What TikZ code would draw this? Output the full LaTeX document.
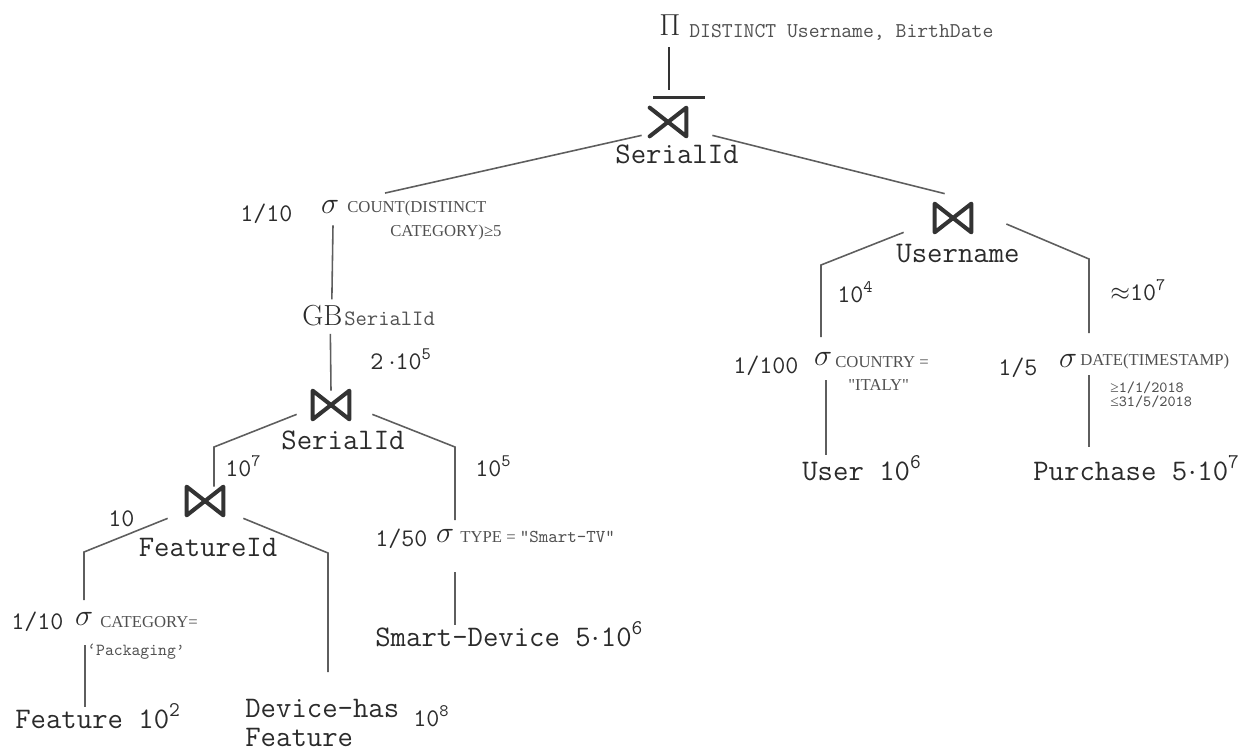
\documentclass[tikz,border=0pt]{standalone}
\usepackage{fontspec}
\newfontfamily\condfont{Liberation Serif}
\definecolor{txt}{HTML}{2B2B2B}
\definecolor{subtxt}{HTML}{505050}
\definecolor{edgec}{HTML}{5E5E5E}
\definecolor{opc}{HTML}{333333}
\newcommand{\tdot}{\kern0.5pt$\cdot$\kern0.5pt}

\begin{document}
\begin{tikzpicture}[x=0.02cm, y=-0.02cm,
    lbl/.style={font=\ttfamily\fontsize{17}{20}\selectfont, text=txt, inner sep=0pt},
    num/.style={font=\ttfamily\fontsize{14.4}{17}\selectfont, text=txt, inner sep=0pt},
    cond/.style={font=\condfont\fontsize{9.5}{11}\selectfont, text=subtxt, inner sep=0pt},
    attr/.style={font=\ttfamily\fontsize{9.6}{11}\selectfont, text=subtxt, inner sep=0pt},
    sel/.style={font=\fontsize{17}{17}\selectfont, text=txt, inner sep=0pt},
    op/.style={minimum width=0.72cm, minimum height=0.56cm, inner sep=0pt},
    opline/.style={draw=opc, line width=2.3pt, line join=round, line cap=round},
    edge/.style={draw=edgec, line width=0.9pt}]
    \useasboundingbox (0,0) rectangle (1251,751);

    % Projection
    \node[font=\fontsize{16}{16}\selectfont, text=txt, inner sep=0pt, anchor=base] (pi) at (670,35) {$\Pi$};
    \node[font=\ttfamily\fontsize{12}{14}\selectfont, text=subtxt, inner sep=0pt, anchor=base west] (piattr) at (689,37) {DISTINCT Username, BirthDate};

    % Draw operators
    \node[op] (sj) at (668,122) {};
    \node[op] (jU) at (953,218) {};
    \node[op] (jS) at (331,405) {};
    \node[op] (jF) at (205,501) {};
    \draw[opline] (sj.north west) -- (sj.south east) -- (sj.north east) -- (sj.south west);
    \draw[draw=opc, line width=1.6pt] ([shift={(-15,-10)}]sj.north) -- ([shift={(37,-10)}]sj.north);
    \foreach \j in {jU,jS,jF}
        \draw[opline] (\j.north west) -- (\j.south east) -- (\j.north east) -- (\j.south west) -- cycle;

    % Join attributes
    \node[lbl, anchor=base] (lsj) at (677,163) {SerialId};
    \node[lbl, anchor=base] (lU) at (958,262) {Username};
    \node[lbl, anchor=base] (lS) at (343,449) {SerialId};
    \node[lbl, anchor=base] (lF) at (208,556) {FeatureId};

    % Left branch
    \node[num, anchor=base west] (cA) at (240,221) {1/10};
    \node[sel, anchor=base] (sA) at (330,213) {$\sigma$};
    \node[cond, anchor=base west] (pA1) at (347,212) {COUNT(DISTINCT};
    \node[cond, anchor=base west] (pA2) at (390,236) {CATEGORY)≥5};
    \node[font=\fontsize{16.5}{17}\selectfont, text=txt, inner sep=0pt, anchor=base west] (gb) at (302,325) {GB};
    \node[font=\ttfamily\fontsize{12.5}{14}\selectfont, text=subtxt, inner sep=0pt, anchor=base west] (gbattr) at (344,325) {SerialId};
    \node[num, anchor=base west] (nS) at (370,369) {2\kern3pt$\cdot$10\textsuperscript{5}};
    \node[num, anchor=base west] (nS1) at (225,476) {10\textsuperscript{7}};
    \node[num, anchor=base west] (nS2) at (475,476) {10\textsuperscript{5}};
    \node[num, anchor=base west] (cC) at (375,546) {1/50};
    \node[sel, anchor=base] (sC) at (445,542) {$\sigma$};
    \node[cond, anchor=base west] (pC) at (460,542) {TYPE = {\ttfamily\fontsize{10.3}{11}\selectfont “Smart-TV”}};
    \node[lbl, anchor=base west] (tSD) at (375,646) {Smart-Device 5\tdot10\textsuperscript{6}};
    \node[num, anchor=base west] (nF) at (108,526) {10};
    \node[num, anchor=base west] (cD) at (11,629) {1/10};
    \node[sel, anchor=base] (sD) at (84,625) {$\sigma$};
    \node[cond, anchor=base west] (pD1) at (100,627) {CATEGORY=};
    \node[attr, anchor=base west] (pD2) at (87,655) {‘Packaging’};
    \node[lbl, anchor=base west] (tF) at (15,728) {Feature 10\textsuperscript{2}};
    \node[lbl, anchor=base west] (tDF1) at (245,717) {Device-has};
    \node[lbl, anchor=base west] (tDF2) at (245,746) {Feature};
    \node[num, anchor=base west] (nDF) at (413,726) {10\textsuperscript{8}};

    % Right branch
    \node[num, anchor=base west] (nU1) at (837,302) {10\textsuperscript{4}};
    \node[num, anchor=base west] (nU2) at (1110,300) {$\approx$10\textsuperscript{7}};
    \node[num, anchor=base west] (cE) at (733,373) {1/100};
    \node[sel, anchor=base] (sE) at (823,365) {$\sigma$};
    \node[cond, anchor=base west] (pE1) at (835,367) {COUNTRY =};
    \node[cond, anchor=base west] (pE2) at (848,390) {"ITALY"};
    \node[lbl, anchor=base west] (tU) at (802,480) {User 10\textsuperscript{6}};
    \node[num, anchor=base west] (cF) at (998,375) {1/5};
    \node[sel, anchor=base] (sF) at (1068,367) {$\sigma$};
    \node[cond, anchor=base west] (pF1) at (1080,365) {DATE(TIMESTAMP)};
    \node[attr, font=\ttfamily\fontsize{8.8}{10}\selectfont, anchor=base west] (pF2) at (1110,392) {{\condfont ≥}1/1/2018};
    \node[attr, font=\ttfamily\fontsize{8.8}{10}\selectfont, anchor=base west] (pF3) at (1110,406) {{\condfont ≤}31/5/2018};
    \node[lbl, anchor=base west] (tP) at (1033,480) {Purchase 5\tdot10\textsuperscript{7}};

    % Bends
    \coordinate (bSl) at (214,447);
    \coordinate (bSr) at (455,447);
    \coordinate (bFl) at (84,552);
    \coordinate (bFr) at (328,553);
    \coordinate (bUl) at (821,265);
    \coordinate (bUr) at (1089,259);

    % Draw connections
    \draw[draw=opc, line width=0.9pt] ([shift={(-1,12)}]pi.south) -- ([shift={(1,-18)}]sj.north);
    \draw[edge] ([shift={(-8,-1)}]sj.south west) -- ([shift={(38,-7)}]pA1.north west);
    \draw[edge] ([shift={(26,-1)}]sj.south east) -- ([shift={(10,-10)}]jU.north west);
    \draw[edge] ([shift={(3,12)}]sA.south) -- ([shift={(9.5,-5)}]gb.north);
    \draw[edge] ([shift={(8,8)}]gb.south) -- (jS.north);
    \draw[edge] ([shift={(-16,-5)}]jS.south west) -- (bSl) -- (bSl |- jF.north);
    \draw[edge] ([shift={(23,-5)}]jS.south east) -- (bSr) -- ++(0,73);
    \draw[edge] ([shift={(10,30)}]sC.south) -- ++(0,53);
    \draw[edge] ([shift={(-19,3)}]jF.south west) -- (bFl) -- ++(0,48);
    \draw[edge] ([shift={(20,3)}]jF.south east) -- (bFr) -- ++(0,119);
    \draw[edge] ([shift={(1,20)}]sD.south) -- ++(0,62);
    \draw[edge] ([shift={(-31,0)}]jU.south west) -- (bUl) -- ++(0,72);
    \draw[edge] ([shift={(35,6)}]jU.east) -- (bUr) -- ++(0,74);
    \draw[edge] ([shift={(3,15)}]sE.south) -- ++(0,75);
    \draw[edge] ([shift={(21,8)}]sF.south) -- ++(0,72);
\end{tikzpicture}
\end{document}
